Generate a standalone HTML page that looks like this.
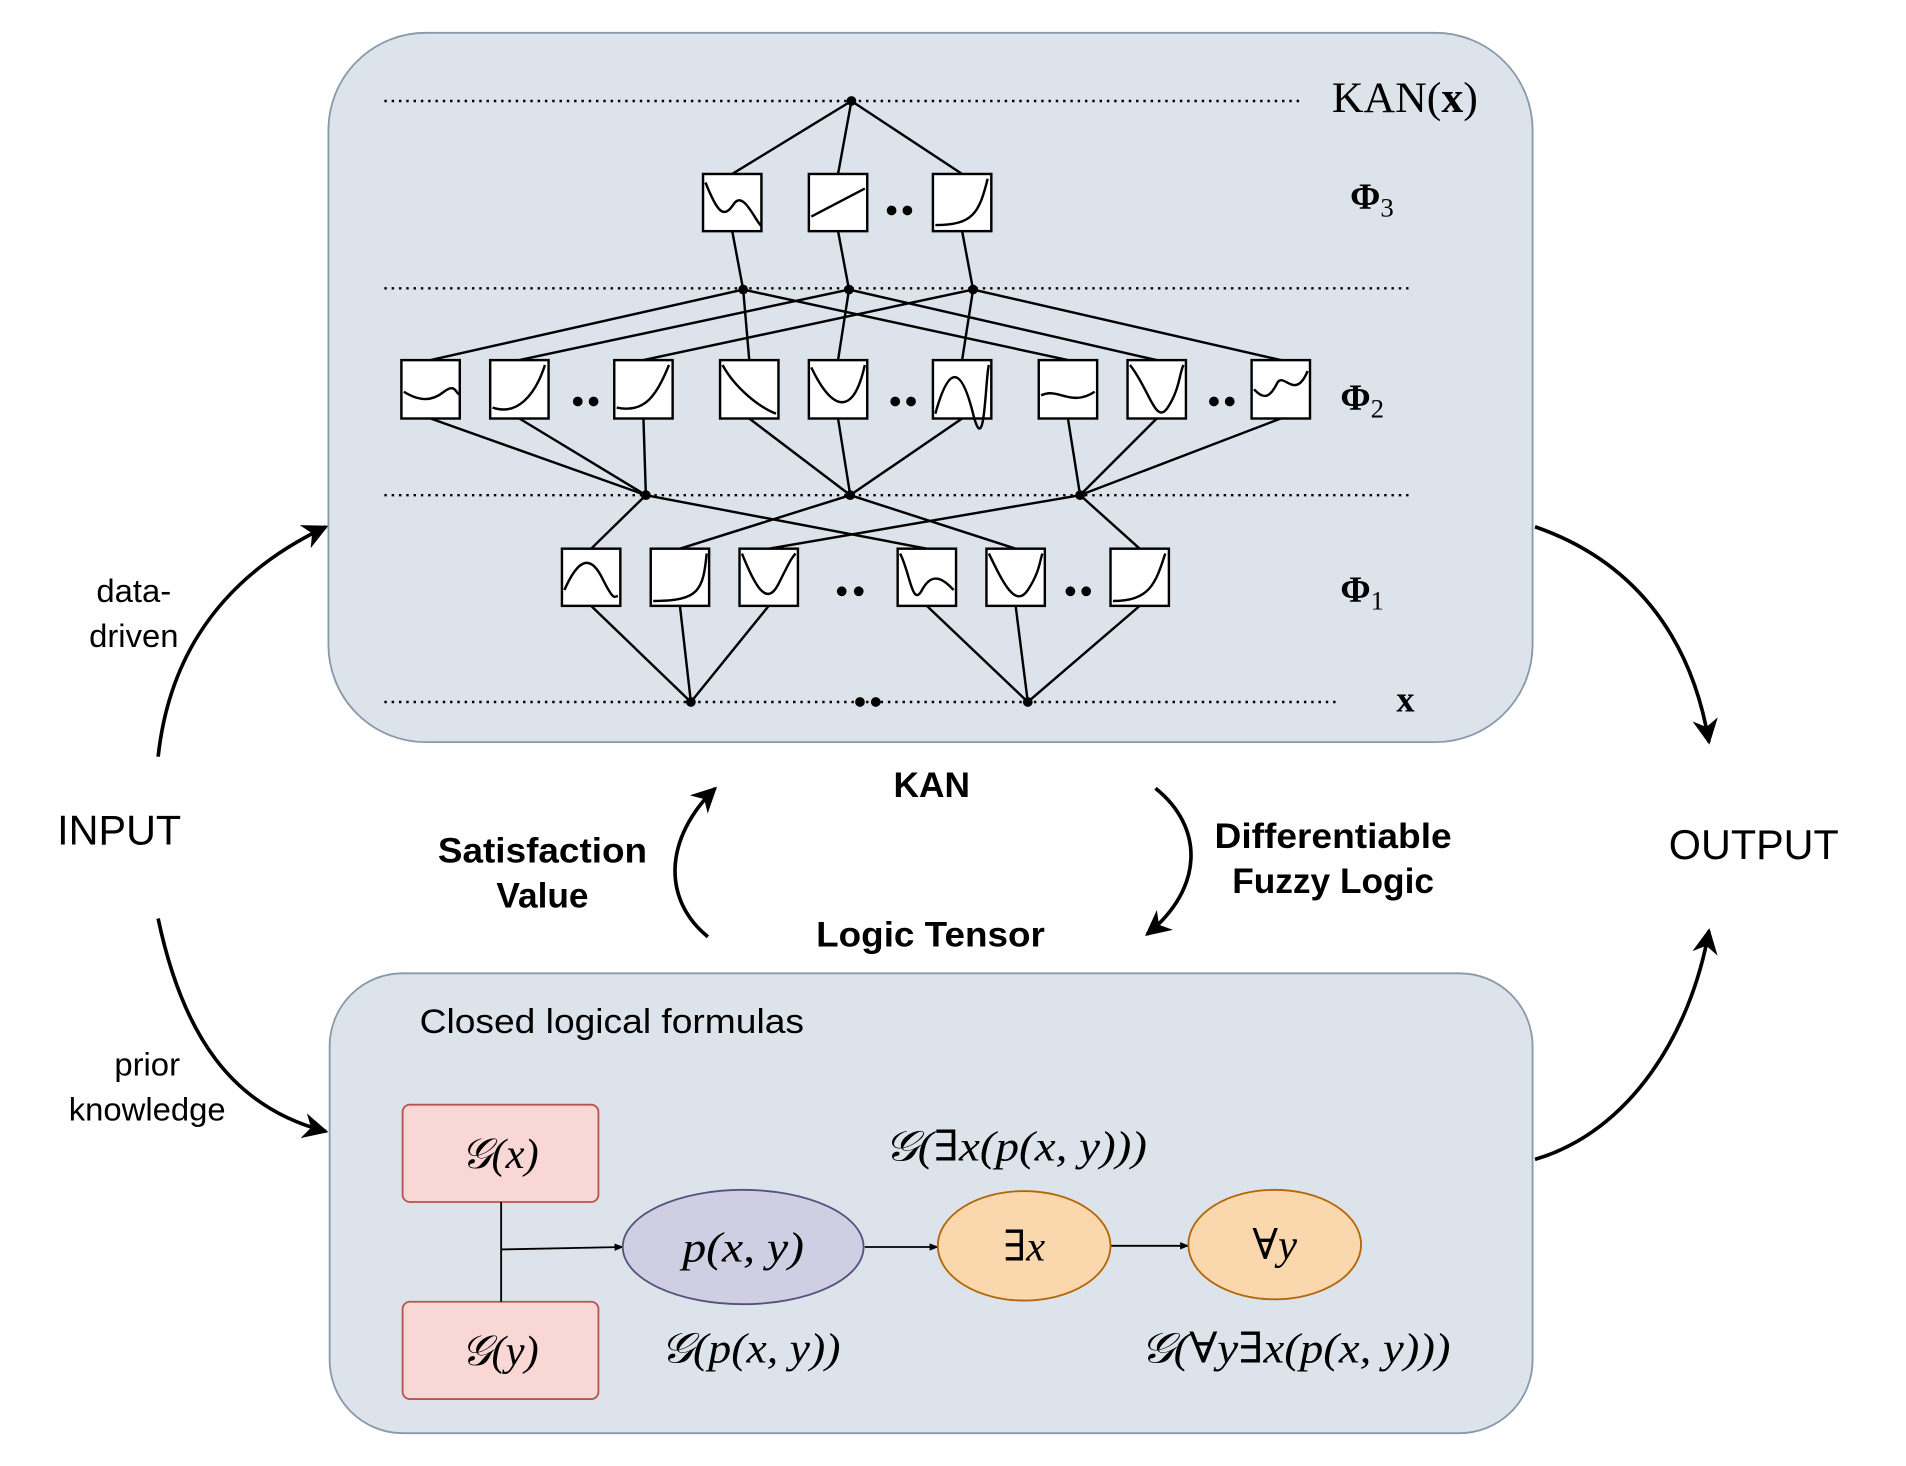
<!DOCTYPE html>
<html><head><meta charset="utf-8"><style>html,body{margin:0;padding:0;background:#fff}svg{display:block}</style></head>
<body>
<svg width="1906" height="1466" viewBox="0 0 1567 1205" preserveAspectRatio="none" xmlns="http://www.w3.org/2000/svg">
<defs>
<marker id="ah" viewBox="0 0 10 10" refX="9" refY="5" markerWidth="7" markerHeight="7" orient="auto"><path d="M0,0 L10,5 L0,10 L3,5 z" fill="#000"/></marker>
<marker id="as" viewBox="0 0 10 10" refX="9" refY="5" markerWidth="5" markerHeight="5" orient="auto"><path d="M0,1 L10,5 L0,9 z" fill="#000"/></marker>
</defs>
<rect x="270" y="27" width="990" height="583" rx="80" fill="#dde3ea" stroke="#8899aa" stroke-width="1.5"/>
<rect x="271" y="800" width="989" height="378" rx="60" fill="#dde3ea" stroke="#8899aa" stroke-width="1.5"/>
<g stroke="#000" stroke-width="2" stroke-dasharray="2,4">
<line x1="316" y1="83" x2="1072" y2="83"/><line x1="316" y1="237" x2="1160" y2="237"/>
<line x1="316" y1="407" x2="1160" y2="407"/><line x1="316" y1="577" x2="1102" y2="577"/>
</g>
<g stroke="#000" stroke-width="2" fill="none">
<path d="M700,83L602,143M700,83L689,143M700,83L791,143"/>
<path d="M602,190L611,238M689,190L698,238M791,190L800,238"/>
<path d="M611,238L354,296M611,238L616,296M611,238L878,296M698,238L427,296M698,238L689,296M698,238L951,296M800,238L529,296M800,238L791,296M800,238L1053,296"/>
<path d="M354,344L531,407M427,344L531,407M529,344L531,407M616,344L699,407M689,344L699,407M791,344L699,407M878,344L888,407M951,344L888,407M1053,344L888,407"/>
<path d="M531,407L486,451M531,407L762,451M699,407L559,451M699,407L835,451M888,407L632,451M888,407L937,451"/>
<path d="M486,498L568,577M559,498L568,577M632,498L568,577M762,498L845,577M835,498L845,577M937,498L845,577"/>
</g>
<g fill="#000">
<circle cx="700" cy="83" r="4"/><circle cx="611" cy="238" r="4"/><circle cx="698" cy="238" r="4"/><circle cx="800" cy="238" r="4"/>
<circle cx="531" cy="407" r="4"/><circle cx="699" cy="407" r="4"/><circle cx="888" cy="407" r="4"/>
<circle cx="568" cy="577" r="4"/><circle cx="845" cy="577" r="4"/><circle cx="707" cy="577" r="4"/><circle cx="720" cy="577" r="4"/>
<circle cx="733" cy="173" r="4"/><circle cx="746" cy="173" r="4"/>
<circle cx="475" cy="330" r="4"/><circle cx="488" cy="330" r="4"/><circle cx="736" cy="330" r="4"/><circle cx="749" cy="330" r="4"/><circle cx="998" cy="330" r="4"/><circle cx="1011" cy="330" r="4"/>
<circle cx="692" cy="486" r="4"/><circle cx="706" cy="486" r="4"/><circle cx="880" cy="486" r="4"/><circle cx="893" cy="486" r="4"/>
</g>
<g stroke="#000" stroke-width="2" fill="#fff">
<rect x="578" y="143" width="48" height="47"/><rect x="665" y="143" width="48" height="47"/><rect x="767" y="143" width="48" height="47"/>
<rect x="330" y="296" width="48" height="48"/><rect x="403" y="296" width="48" height="48"/><rect x="505" y="296" width="48" height="48"/>
<rect x="592" y="296" width="48" height="48"/><rect x="665" y="296" width="48" height="48"/><rect x="767" y="296" width="48" height="48"/>
<rect x="854" y="296" width="48" height="48"/><rect x="927" y="296" width="48" height="48"/><rect x="1029" y="296" width="48" height="48"/>
<rect x="462" y="451" width="48" height="47"/><rect x="535" y="451" width="48" height="47"/><rect x="608" y="451" width="48" height="47"/>
<rect x="738" y="451" width="48" height="47"/><rect x="811" y="451" width="48" height="47"/><rect x="913" y="451" width="48" height="47"/>
</g>
<g stroke="#000" stroke-width="2" fill="none">
<path d="M580,150C590,175 595,180 603,168S620,180 626,186"/><path d="M667,178L711,155"/><path d="M769,185C800,185 805,175 812,147"/>
<path d="M332,322C345,330 355,330 365,322S375,325 378,324"/><path d="M405,335C425,342 440,325 448,300"/><path d="M507,335C530,340 540,325 550,300"/>
<path d="M594,300C605,320 625,335 638,340"/><path d="M667,302C680,330 700,350 711,300"/><path d="M769,340C780,300 790,300 800,340S810,310 813,300"/>
<path d="M856,325C870,318 880,335 900,322"/><path d="M929,300C945,320 950,350 960,335S970,305 973,300"/><path d="M1031,320C1040,330 1045,325 1050,315S1065,330 1075,305"/>
<path d="M464,485C475,460 485,455 495,475S505,490 508,490"/><path d="M537,494C575,494 578,485 581,455"/><path d="M610,455C620,480 630,500 640,480S650,460 654,455"/>
<path d="M740,455C748,470 750,500 758,485S775,475 784,485"/><path d="M813,455C825,480 835,500 845,485S855,460 857,455"/><path d="M915,494C945,494 950,480 958,455"/>
</g>
<g font-family="Liberation Serif, serif" fill="#000">
<text x="1095" y="92" font-size="36">KAN(<tspan font-weight="bold">x</tspan>)</text>
<text x="1110" y="172" font-size="30" font-weight="bold">Φ<tspan font-size="22" dy="6" font-weight="normal">3</tspan></text>
<text x="1102" y="337" font-size="30" font-weight="bold">Φ<tspan font-size="22" dy="6" font-weight="normal">2</tspan></text>
<text x="1102" y="495" font-size="30" font-weight="bold">Φ<tspan font-size="22" dy="6" font-weight="normal">1</tspan></text>
<text x="1148" y="585" font-size="30" font-weight="bold">x</text>
</g>
<g stroke="#000" stroke-width="3" fill="none">
<path d="M130,622C140,530 190,470 268,433" marker-end="url(#ah)"/>
<path d="M130,755C150,850 190,910 268,930" marker-end="url(#ah)"/>
<path d="M1262,433C1340,460 1390,520 1405,610" marker-end="url(#ah)"/>
<path d="M1262,953C1340,930 1390,850 1405,765" marker-end="url(#ah)"/>
<path d="M582,770C545,740 545,690 588,648" marker-end="url(#ah)"/>
<path d="M950,648C990,680 990,730 943,768" marker-end="url(#ah)"/>
</g>
<g font-family="Liberation Sans, sans-serif" fill="#000">
<text x="47" y="694" font-size="34">INPUT</text>
<text x="1372" y="706" font-size="34">OUTPUT</text>
<text x="110" y="495" font-size="27" text-anchor="middle">data-</text>
<text x="110" y="532" font-size="27" text-anchor="middle">driven</text>
<text x="121" y="884" font-size="27" text-anchor="middle">prior</text>
<text x="121" y="921" font-size="27" text-anchor="middle">knowledge</text>
<g font-weight="bold" font-size="29" text-anchor="middle">
<text x="766" y="655">KAN</text>
<text x="446" y="709" textLength="172" lengthAdjust="spacingAndGlyphs">Satisfaction</text><text x="446" y="746">Value</text>
<text x="1096" y="697" textLength="195" lengthAdjust="spacingAndGlyphs">Differentiable</text><text x="1096" y="734">Fuzzy Logic</text>
<text x="765" y="778" textLength="188" lengthAdjust="spacingAndGlyphs">Logic Tensor</text>
</g>
<text x="345" y="849" font-size="28" textLength="316" lengthAdjust="spacingAndGlyphs">Closed logical formulas</text>
</g>
<rect x="331" y="908" width="161" height="80" rx="6" fill="#f8d7d5" stroke="#b85450" stroke-width="1.5"/>
<rect x="331" y="1070" width="161" height="80" rx="6" fill="#f8d7d5" stroke="#b85450" stroke-width="1.5"/>
<line x1="412" y1="988" x2="412" y2="1070" stroke="#000" stroke-width="1.5"/>
<g stroke="#000" stroke-width="1.5" marker-end="url(#as)">
<line x1="412" y1="1027" x2="512" y2="1025"/><line x1="711" y1="1025" x2="771" y2="1025"/><line x1="913" y1="1024" x2="977" y2="1024"/>
</g>
<ellipse cx="611" cy="1025" rx="99" ry="47" fill="#d0cee2" stroke="#56517e" stroke-width="1.5"/>
<ellipse cx="842" cy="1024" rx="71" ry="45" fill="#fad7ac" stroke="#b46504" stroke-width="1.5"/>
<ellipse cx="1048" cy="1023" rx="71" ry="45" fill="#fad7ac" stroke="#b46504" stroke-width="1.5"/>
<g font-family="Liberation Serif, DejaVu Serif, serif" font-size="35" font-style="italic" fill="#000" text-anchor="middle">
<text x="411" y="960">𝒢(x)</text>
<text x="411" y="1122">𝒢(y)</text>
<text x="611" y="1037" textLength="100" lengthAdjust="spacingAndGlyphs">p(x, y)</text>
<text x="842" y="1036">∃x</text>
<text x="1048" y="1035">∀y</text>
<text x="835" y="954" textLength="216" lengthAdjust="spacingAndGlyphs">𝒢(∃x(p(x, y)))</text>
<text x="617" y="1120" textLength="148" lengthAdjust="spacingAndGlyphs">𝒢(p(x, y))</text>
<text x="1065" y="1120" textLength="255" lengthAdjust="spacingAndGlyphs">𝒢(∀y∃x(p(x, y)))</text>
</g>
</svg>
</body></html>
